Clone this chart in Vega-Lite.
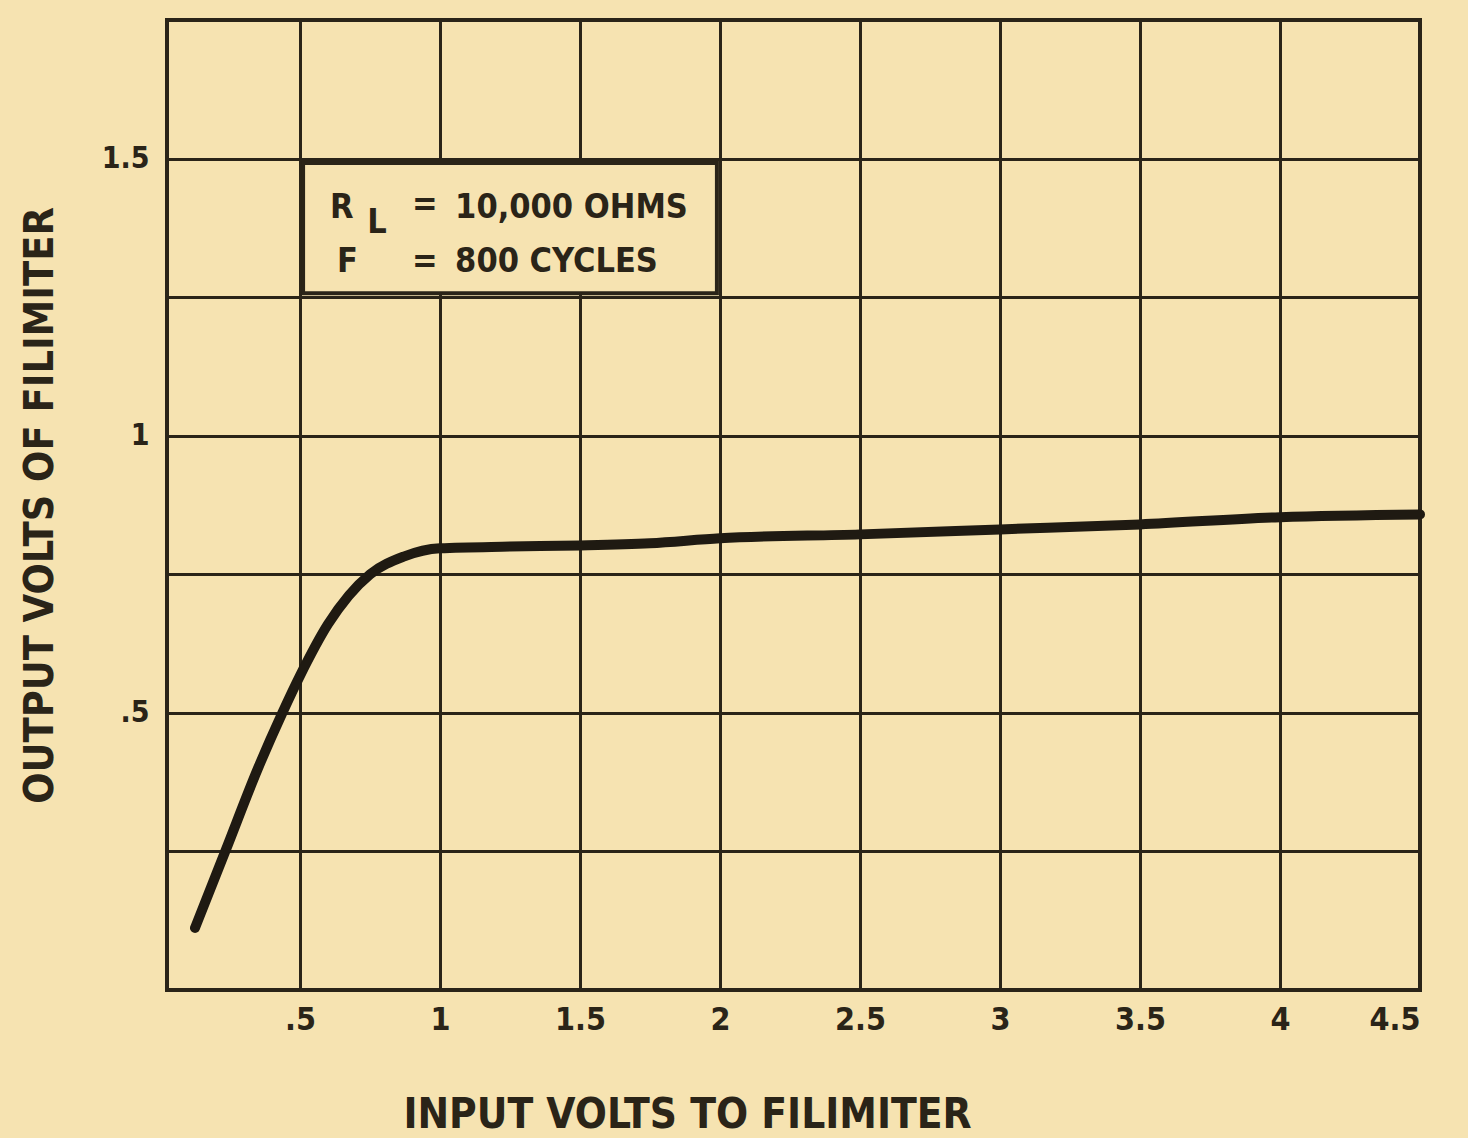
{
  "$schema": "https://vega.github.io/schema/vega-lite/v6.json",
  "width": 1253,
  "height": 970,
  "autosize": "none",
  "padding": {"left": 167, "top": 20, "right": 48, "bottom": 148},
  "background": "#F6E3B1",
  "config": {
    "view": {"stroke": "#2a2418", "strokeWidth": 4},
    "font": "DejaVu Sans Condensed"
  },
  "layer": [
    {
      "data": {"values": [
        {"input": 0.125, "output": 0.112},
        {"input": 0.233, "output": 0.25},
        {"input": 0.35, "output": 0.40},
        {"input": 0.437, "output": 0.5},
        {"input": 0.5, "output": 0.567},
        {"input": 0.6, "output": 0.66},
        {"input": 0.75, "output": 0.75},
        {"input": 0.87, "output": 0.782},
        {"input": 1.0, "output": 0.797},
        {"input": 1.25, "output": 0.800},
        {"input": 1.5, "output": 0.802},
        {"input": 1.75, "output": 0.806},
        {"input": 2.0, "output": 0.815},
        {"input": 2.5, "output": 0.822},
        {"input": 3.0, "output": 0.831},
        {"input": 3.5, "output": 0.840},
        {"input": 4.0, "output": 0.853},
        {"input": 4.5, "output": 0.858}
      ]},
      "mark": {"type": "line", "color": "#1f1a12", "strokeWidth": 10, "strokeCap": "round", "interpolate": "monotone"},
      "encoding": {
        "x": {
          "field": "input", "type": "quantitative",
          "scale": {"domain": [0.025, 4.5], "nice": false, "zero": false},
          "axis": {
            "values": [0.5, 1, 1.5, 2, 2.5, 3, 3.5, 4, 4.5],
            "labelExpr": "datum.value == 0.5 ? '.5' : datum.value == 1 ? '1' : datum.value == 1.5 ? '1.5' : datum.value == 2 ? '2' : datum.value == 2.5 ? '2.5' : datum.value == 3 ? '3' : datum.value == 3.5 ? '3.5' : datum.value == 4 ? '4' : '4.5'",
            "grid": true, "gridColor": "#2a2418", "gridWidth": 3, "gridOpacity": 1,
            "ticks": false, "domain": false,
            "labelFont": "DejaVu Sans Condensed", "labelFontWeight": "bold", "labelFontSize": 32,
            "labelColor": "#2a2418", "labelPadding": 14,
            "title": "INPUT VOLTS TO FILIMITER",
            "titleFont": "DejaVu Sans Condensed", "titleFontWeight": "bold", "titleFontSize": 42,
            "titleColor": "#2a2418", "titleX": 520, "titleY": 124, "titleBaseline": "middle", "titleAlign": "center"
          }
        },
        "y": {
          "field": "output", "type": "quantitative",
          "scale": {"domain": [0, 1.75], "nice": false, "zero": false},
          "axis": {
            "values": [0.25, 0.5, 0.75, 1, 1.25, 1.5],
            "labelExpr": "datum.value == 0.5 ? '.5' : datum.value == 1 ? '1' : datum.value == 1.5 ? '1.5' : ''",
            "grid": true, "gridColor": "#2a2418", "gridWidth": 3, "gridOpacity": 1,
            "ticks": false, "domain": false,
            "labelFont": "DejaVu Sans Condensed", "labelFontWeight": "bold", "labelFontSize": 30,
            "labelColor": "#2a2418", "labelPadding": 18,
            "title": "OUTPUT VOLTS OF FILIMITER",
            "titleFont": "DejaVu Sans Condensed", "titleFontWeight": "bold", "titleFontSize": 41,
            "titleColor": "#2a2418", "titleX": -127, "titleY": 485, "titleAngle": -90,
            "titleBaseline": "middle", "titleAlign": "center"
          }
        }
      }
    },
    {
      "data": {"values": [{"x1": 0.511, "x2": 1.989, "y1": 1.257, "y2": 1.492}]},
      "mark": {"type": "rect", "fill": "#F6E3B1", "stroke": "#2a2418", "strokeWidth": 4},
      "encoding": {
        "x": {"field": "x1", "type": "quantitative"},
        "x2": {"field": "x2"},
        "y": {"field": "y1", "type": "quantitative"},
        "y2": {"field": "y2"}
      }
    },
    {
      "data": {"values": [
        {"x": 0.607, "y": 1.393, "label": "R"},
        {"x": 0.74, "y": 1.366, "label": "L"},
        {"x": 1.054, "y": 1.393, "label": "10,000 OHMS"},
        {"x": 0.632, "y": 1.295, "label": "F"},
        {"x": 1.054, "y": 1.295, "label": "800 CYCLES"}
      ]},
      "mark": {"type": "text", "align": "left", "baseline": "alphabetic", "font": "DejaVu Sans Condensed", "fontWeight": "bold", "fontSize": 34, "color": "#2a2418"},
      "encoding": {
        "x": {"field": "x", "type": "quantitative"},
        "y": {"field": "y", "type": "quantitative"},
        "text": {"field": "label"}
      }
    },
    {
      "data": {"values": [
        {"x": 0.946, "y": 1.416, "label": "="},
        {"x": 0.946, "y": 1.313, "label": "="}
      ]},
      "mark": {"type": "text", "align": "center", "baseline": "middle", "font": "DejaVu Sans Condensed", "fontWeight": "bold", "fontSize": 34, "color": "#2a2418"},
      "encoding": {
        "x": {"field": "x", "type": "quantitative"},
        "y": {"field": "y", "type": "quantitative"},
        "text": {"field": "label"}
      }
    }
  ]
}
